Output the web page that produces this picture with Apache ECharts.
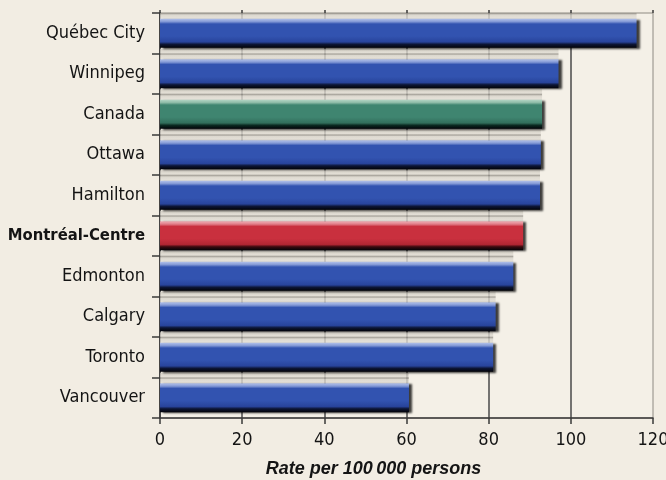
<!DOCTYPE html>
<html>
<head>
<meta charset="utf-8">
<script src="https://cdn.jsdelivr.net/npm/echarts@6/dist/echarts.min.js"></script>
<style>
  html, body { margin: 0; padding: 0; background: #f2ede3; }
  #chart { width: 666px; height: 480px; }
</style>
</head>
<body>
<div id="chart"></div>
<script>
// Cities, top to bottom
const cities = ['Québec City', 'Winnipeg', 'Canada', 'Ottawa', 'Hamilton',
  'Montréal-Centre', 'Edmonton', 'Calgary', 'Toronto', 'Vancouver'];
// Rate per 100 000 persons
const rates = [116, 97, 93, 92.7, 92.5, 88.4, 86, 81.7, 81.1, 60.6];
// Axis ticks
const xTicks = [0, 20, 40, 60, 80, 100, 120];

const FONT = '"DejaVu Sans Condensed", "Liberation Sans Narrow", sans-serif';

function barGradient(hi, hi2, body, body2, dark) {
  return new echarts.graphic.LinearGradient(0, 0, 0, 1, [
    { offset: 0, color: hi },
    { offset: 0.1, color: hi2 },
    { offset: 0.18, color: body },
    { offset: 0.6, color: body },
    { offset: 0.8, color: body2 },
    { offset: 0.88, color: dark },
    { offset: 1, color: '#020308' }
  ]);
}
const blue = barGradient('#b3c2ea', '#8399d6', '#3253b0', '#28449c', '#0d1636');
const green = barGradient('#b5d6c6', '#8dbba7', '#3f8570', '#326f5c', '#0b2a21');
const red = barGradient('#f0aeb4', '#e07d88', '#c9303e', '#b12633', '#3a0a0f');

function colorFor(name) {
  if (name === 'Canada') return green;
  if (name === 'Montréal-Centre') return red;
  return blue;
}

const chart = echarts.init(document.getElementById('chart'));

chart.setOption({
  backgroundColor: '#f2ede3',
  animation: false,
  grid: {
    left: 160, right: 13, top: 13, bottom: 62,
    outerBoundsMode: 'none',
    containLabel: false,
    show: true, backgroundColor: '#f4f0e7',
    borderColor: '#8e8a82', borderWidth: 1
  },
  xAxis: [{
    type: 'value', min: xTicks[0], max: xTicks[xTicks.length - 1], interval: 20,
    name: 'Rate per 100\u2009000 persons',
    nameLocation: 'middle', nameGap: 42,
    nameTextStyle: {
      fontFamily: '"Liberation Sans", sans-serif', fontSize: 18,
      fontWeight: 'bold', fontStyle: 'italic', color: '#141414',
      padding: [0, 66, 0, 0]
    },
    axisLine: { show: true, lineStyle: { color: '#3a3a3a', width: 1.5 } },
    axisTick: { show: true, length: 6, lineStyle: { color: '#3a3a3a', width: 1.5 } },
    axisLabel: { fontFamily: FONT, fontSize: 18, color: '#141414', margin: 13 },
    splitLine: { show: true, showMaxLine: false, lineStyle: { color: '#4a4a4a', width: 1.5 } }
  }, {
    type: 'value', position: 'top', min: 0, max: 120, interval: 20,
    axisLine: { show: false },
    axisTick: { show: true, inside: false, length: 3, lineStyle: { color: '#3a3a3a', width: 1.5 } },
    axisLabel: { show: false },
    splitLine: { show: false }
  }],
  yAxis: {
    type: 'category', inverse: true, data: cities,
    axisLine: { show: true, lineStyle: { color: '#3a3a3a', width: 1.5 } },
    axisTick: { show: true, length: 8, lineStyle: { color: '#3a3a3a', width: 1.5 } },
    axisLabel: {
      fontFamily: FONT, fontSize: 18, color: '#141414', margin: 15,
      formatter: v => v === 'Montréal-Centre' ? '{b|' + v + '}' : v,
      rich: { b: { fontFamily: FONT, fontSize: 16.5, fontWeight: 'bold', color: '#141414' } }
    }
  },
  series: [{
    // grey top face of each bar
    type: 'custom',
    clip: true,
    data: rates.map((v, i) => [v, i]),
    encode: { x: 0, y: 1 },
    z: 1,
    renderItem: function (params, api) {
      const start = api.coord([0, api.value(1)]);
      const end = api.coord([api.value(0), api.value(1)]);
      const band = api.size([0, 1])[1];
      const top = start[1] - band / 2;
      const h = band * 0.27;
      return {
        type: 'rect',
        shape: { x: start[0], y: top - band * 0.12, width: end[0] - start[0], height: h },
        style: {
          fill: new echarts.graphic.LinearGradient(0, 0, 0, 1, [
            { offset: 0, color: 'rgba(205,200,190,0.75)' },
            { offset: 0.35, color: 'rgba(222,218,209,0.8)' },
            { offset: 0.5, color: 'rgba(150,146,138,0.8)' },
            { offset: 0.62, color: 'rgba(214,210,201,0.8)' },
            { offset: 1, color: 'rgba(230,226,218,0.8)' }
          ])
        }
      };
    }
  }, {
    type: 'bar',
    data: rates.map((v, i) => ({ value: v, itemStyle: { color: colorFor(cities[i]) } })),
    barWidth: 29,
    z: 3,
    itemStyle: {
      shadowColor: 'rgba(0,0,0,0.75)',
      shadowBlur: 2,
      shadowOffsetX: 3,
      shadowOffsetY: 1
    }
  }]
});
</script>
</body>
</html>
